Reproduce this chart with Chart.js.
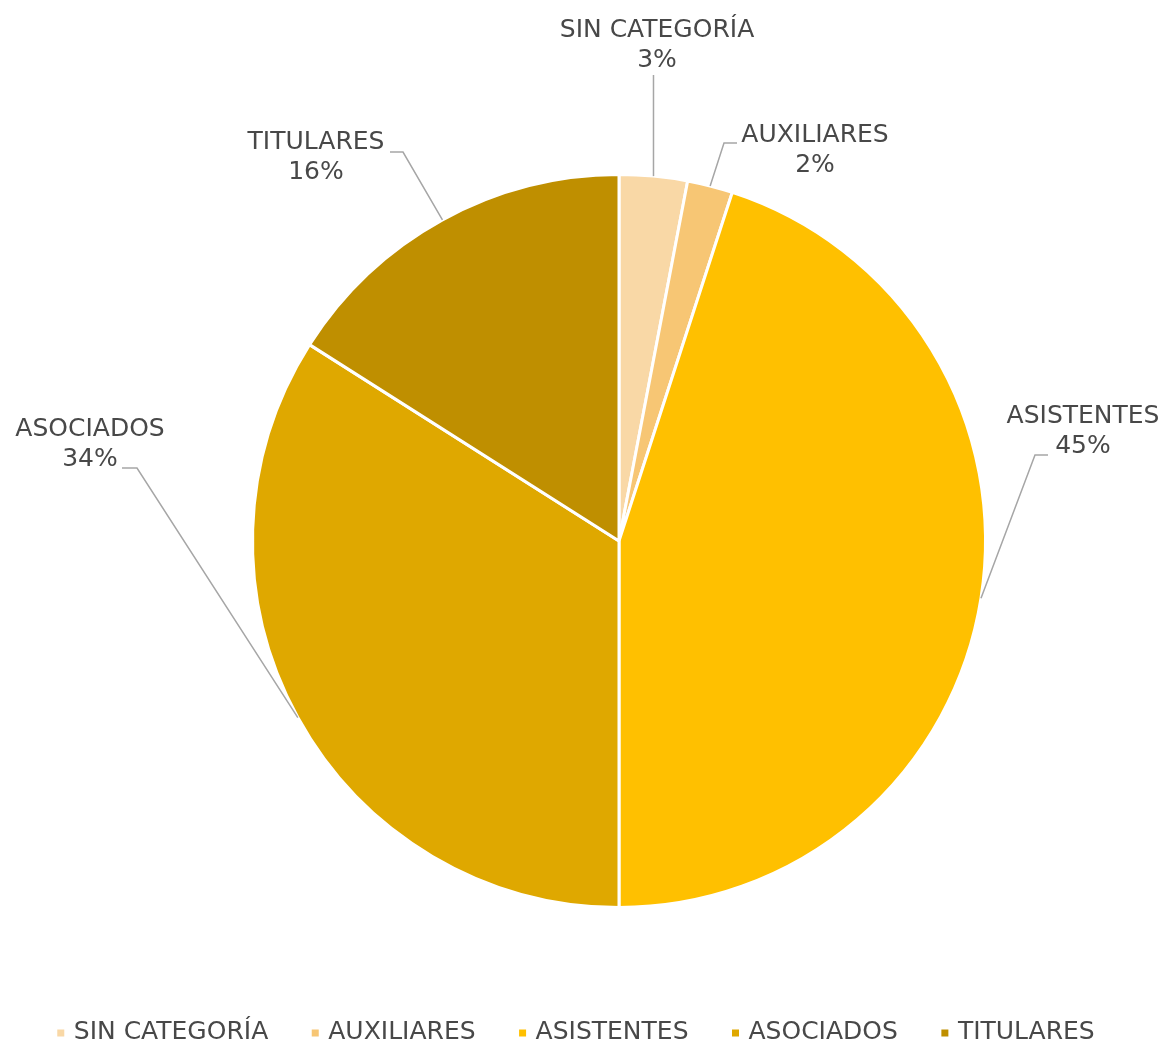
<!DOCTYPE html>
<html lang="es">
<head>
<meta charset="utf-8">
<title>Distribución por categoría</title>
<script src="https://cdn.jsdelivr.net/npm/chart.js@4.4.1/dist/chart.umd.min.js"></script>
<style>
  html, body { margin: 0; padding: 0; background: #ffffff; }
  #wrap { width: 1166px; height: 1047px; position: relative; }
</style>
</head>
<body>
<div id="wrap"><canvas id="pie" width="1166" height="1047"></canvas></div>
<script>
// Categories and their share of the total (percent)
const categories = ['SIN CATEGORÍA', 'AUXILIARES', 'ASISTENTES', 'ASOCIADOS', 'TITULARES'];
const shares = [3, 2, 45, 34, 16];
const sliceColors = ['#F9D8A6', '#F7C674', '#FFC000', '#DFA800', '#BF8F00'];

// Label placement for each slice, relative to the pie centre (px):
// text = centre of the first text line, elbow/end = leader line bend and tip
const labelLayout = [
  { text: [38, -511],  elbow: null,        end: [39, -466] },
  { text: [196, -406], elbow: [105, -398], end: [118, -398] },
  { text: [464, -125], elbow: [416, -86],  end: [429, -86] },
  { text: [-529, -112], elbow: [-482, -73], end: [-497, -73] },
  { text: [-303, -399], elbow: [-216, -389], end: [-229, -389] }
];

const FONT = '25px "DejaVu Sans", Verdana, sans-serif';
const TEXT_COLOR = '#484848';
const LEADER_COLOR = '#A6A6A6';
const LINE_GAP = 30;

// Category name + percentage with a leader line out to the slice edge
const outsideLabels = {
  id: 'outsideLabels',
  afterDatasetsDraw(chart) {
    const ctx = chart.ctx;
    const meta = chart.getDatasetMeta(0);
    const total = shares.reduce((a, b) => a + b, 0);
    ctx.save();
    ctx.font = FONT;
    ctx.textAlign = 'center';
    ctx.textBaseline = 'middle';
    meta.data.forEach((arc, i) => {
      const p = arc.getProps(['x', 'y', 'startAngle', 'endAngle', 'outerRadius'], true);
      const mid = (p.startAngle + p.endAngle) / 2;
      const ex = p.x + Math.cos(mid) * p.outerRadius;
      const ey = p.y + Math.sin(mid) * p.outerRadius;
      const lay = labelLayout[i];

      ctx.strokeStyle = LEADER_COLOR;
      ctx.lineWidth = 1.5;
      ctx.beginPath();
      ctx.moveTo(ex, ey);
      if (lay.elbow) {
        ctx.lineTo(p.x + lay.elbow[0], p.y + lay.elbow[1]);
        ctx.lineTo(p.x + lay.end[0], p.y + lay.end[1]);
      } else {
        ctx.lineTo(ex, p.y + lay.end[1]);
      }
      ctx.stroke();

      const pct = Math.round(shares[i] / total * 100) + '%';
      ctx.fillStyle = TEXT_COLOR;
      ctx.fillText(categories[i], p.x + lay.text[0], p.y + lay.text[1]);
      ctx.fillText(pct, p.x + lay.text[0], p.y + lay.text[1] + LINE_GAP);
    });
    ctx.restore();
  }
};

// Single-row legend with small square swatches along the bottom
const bottomLegend = {
  id: 'bottomLegend',
  afterDraw(chart) {
    const ctx = chart.ctx;
    const y = 1032;
    const box = 7, toText = 13, itemGap = 47;
    ctx.save();
    ctx.font = FONT;
    ctx.textBaseline = 'middle';
    ctx.textAlign = 'left';
    const widths = categories.map(c => ctx.measureText(c).width);
    let totalW = box / 2;
    widths.forEach((w, i) => {
      totalW += toText + w + (i < widths.length - 1 ? itemGap : 0);
    });
    let x = 576 - totalW / 2 + box / 2;
    categories.forEach((c, i) => {
      ctx.fillStyle = sliceColors[i];
      ctx.fillRect(x - box / 2, y - box / 2 + 1, box, box);
      ctx.fillStyle = TEXT_COLOR;
      ctx.fillText(c, x + toText, y);
      x += toText + widths[i] + itemGap;
    });
    ctx.restore();
  }
};

new Chart(document.getElementById('pie'), {
  type: 'pie',
  data: {
    labels: categories,
    datasets: [{
      data: shares,
      backgroundColor: sliceColors,
      borderColor: '#ffffff',
      borderWidth: 3
    }]
  },
  options: {
    responsive: false,
    animation: false,
    devicePixelRatio: 1,
    layout: { padding: { left: 251, right: 179, top: 173, bottom: 138 } },
    plugins: {
      legend: { display: false },
      tooltip: { enabled: false }
    }
  },
  plugins: [outsideLabels, bottomLegend]
});
</script>
</body>
</html>
